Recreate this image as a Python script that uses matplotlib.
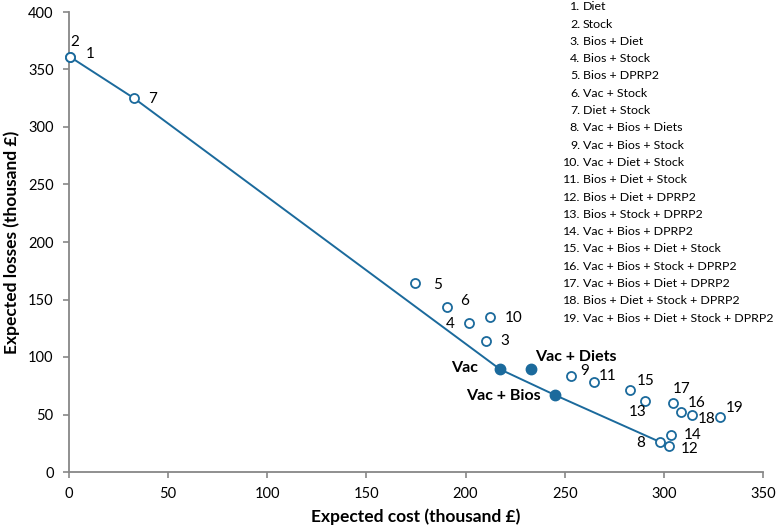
import matplotlib
matplotlib.use('Agg')
from matplotlib import pyplot as plt

plt.rcParams['font.family'] = ['Lato', 'DejaVu Sans']

# strategy numbers and their expected cost / expected losses (thousand £)
ids = [1, 2, 3, 4, 5, 6, 7, 8, 9, 10, 11, 12, 13, 14, 15, 16, 17, 18, 19]
cost = [0.5, 0.5, 210.2, 201.8, 174.7, 190.6, 32.8, 298.2, 253.4, 212.4,
        264.8, 302.7, 290.3, 303.7, 283.0, 308.7, 304.5, 314.4, 328.3]
loss = [361, 361, 114, 130, 164, 143.7, 325, 26, 83.5, 134.5,
        78, 22.6, 62, 31.9, 71.3, 52, 59.7, 49.3, 47.6]
names = ['Diet', 'Stock', 'Bios + Diet', 'Bios + Stock', 'Bios + DPRP2',
         'Vac + Stock', 'Diet + Stock', 'Vac + Bios + Diets',
         'Vac + Bios + Stock', 'Vac + Diet + Stock', 'Bios + Diet + Stock',
         'Bios + Diet + DPRP2', 'Bios + Stock + DPRP2', 'Vac + Bios + DPRP2',
         'Vac + Bios + Diet + Stock', 'Vac + Bios + Stock + DPRP2',
         'Vac + Bios + Diet + DPRP2', 'Bios + Diet + Stock + DPRP2',
         'Vac + Bios + Diet + Stock + DPRP2']

# highlighted strategies (filled)
key_names = ['Vac', 'Vac + Diets', 'Vac + Bios']
key_cost = [217.4, 233.0, 245.0]
key_loss = [89.3, 89.3, 67.0]

# efficient frontier: 2 -> 7 -> Vac -> Vac + Bios -> 8
front_cost = [0.5, 32.8, 217.4, 245.0, 298.2]
front_loss = [361, 325, 89.3, 67.0, 26]

# label offsets in pixels (dx, dy), dy positive = up
offsets = {1: (20, 3), 2: (5, 15), 3: (19, 0), 4: (-19, -2), 5: (22, -2),
           6: (18, 6), 7: (19, -1), 8: (-20, -1), 9: (13, 5), 10: (23, -1),
           11: (14, 6), 12: (20, -3), 13: (-7, -11), 14: (21, 0),
           15: (16, 9), 16: (16, 9), 17: (9, 14), 18: (14, -4), 19: (15, 9)}
key_offsets = {'Vac': (-22, 1, 'right'), 'Vac + Diets': (4, 12, 'left'),
               'Vac + Bios': (-14, -1, 'right')}

blue = '#1b6a9c'
grey = '#878787'

fig = plt.figure(figsize=(7.77, 5.31), dpi=100)
ax = fig.add_axes([69 / 777, 59 / 531, 694 / 777, 460 / 531])

ax.plot(front_cost, front_loss, color=blue, lw=1.4, zorder=2)
ax.plot(cost, loss, 'o', mfc='white', mec=blue, mew=1.3, ms=6.5,
        clip_on=False, zorder=3)
ax.plot(key_cost, key_loss, 'o', color=blue, ms=7.5, zorder=4)

for i, c, l in zip(ids, cost, loss):
    dx, dy = offsets[i]
    ax.annotate(str(i), (c, l), xytext=(dx * 0.72, dy * 0.72),
                textcoords='offset points', ha='center', va='center',
                fontsize=11)

for n, c, l in zip(key_names, key_cost, key_loss):
    dx, dy, ha = key_offsets[n]
    ax.annotate(n, (c, l), xytext=(dx * 0.72, dy * 0.72),
                textcoords='offset points', ha=ha, va='center',
                fontsize=11.5, fontweight='bold')

# numbered list of strategies
for k, (i, n) in enumerate(zip(ids, names)):
    y = 1 - (6.8 + k * 17.3) / 531
    fig.text(580 / 777, y, f'{i}.', ha='right', va='center', fontsize=8.9)
    fig.text(583 / 777, y, n, ha='left', va='center', fontsize=8.9)

ax.set_xlim(0, 350)
ax.set_ylim(0, 400)
ax.set_xticks(range(0, 351, 50))
ax.set_yticks(range(0, 401, 50))
for s in ['top', 'right']:
    ax.spines[s].set_visible(False)
for s in ['left', 'bottom']:
    ax.spines[s].set_color(grey)
    ax.spines[s].set_linewidth(1.3)
ax.tick_params(direction='out', length=4, width=1.2, color=grey,
               labelsize=10.5, pad=7)

ax.set_xlabel('Expected cost (thousand £)', fontsize=12.5,
              fontweight='bold', labelpad=5)
ax.set_ylabel('Expected losses (thousand £)', fontsize=12.5,
              fontweight='bold', labelpad=6)

fig.savefig('out.png', dpi=100)
